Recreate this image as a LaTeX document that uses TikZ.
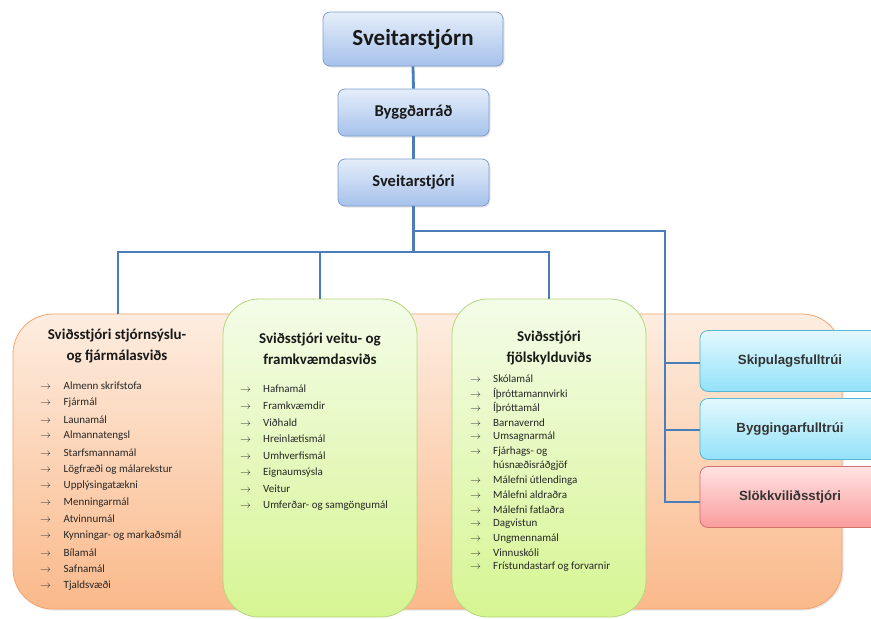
\documentclass[tikz,border=0pt]{standalone}
\usepackage{fontspec}
\setmainfont{Carlito}
\newfontfamily\arialf{Liberation Sans}
\usetikzlibrary{shadows}
\definecolor{lineblue}{HTML}{4A7EBB}
\definecolor{topA}{HTML}{E5EEFA}
\definecolor{topB}{HTML}{A6C1EB}
\definecolor{topborder}{HTML}{7F9DCC}
\definecolor{orA}{HTML}{FDEDE0}
\definecolor{orB}{HTML}{FAB98A}
\definecolor{orborder}{HTML}{F4A46A}
\definecolor{grA}{HTML}{F4FCE8}
\definecolor{grB}{HTML}{D6F592}
\definecolor{grborder}{HTML}{B4D77E}
\definecolor{cyA}{HTML}{E3F8FE}
\definecolor{cyB}{HTML}{93E2F9}
\definecolor{cyborder}{HTML}{56B6D3}
\definecolor{rdA}{HTML}{FFE3E3}
\definecolor{rdB}{HTML}{FA9C9C}
\definecolor{rdborder}{HTML}{D2706E}
\definecolor{titletxt}{HTML}{333333}
\newcommand{\arr}[1]{\makebox[#1][l]{\color{black!80}$\rightarrow$}}
\begin{document}
\begin{tikzpicture}[x=1pt,y=-1pt,
  topbox/.style={draw=topborder, line width=0.8pt, rounded corners=7pt,
    top color=topA, bottom color=topB, font=\bfseries, text=black!90,
    drop shadow={opacity=0.2, shadow xshift=1.5pt, shadow yshift=-1.5pt}},
  orbox/.style={draw=orborder, line width=0.8pt, rounded corners=40pt,
    top color=orA, bottom color=orB,
    drop shadow={opacity=0.2, shadow xshift=1.5pt, shadow yshift=-1.5pt}},
  grbox/.style={draw=grborder, line width=0.8pt, rounded corners=36pt,
    top color=grA, bottom color=grB},
  sidebox/.style={line width=0.8pt, rounded corners=8pt,
    minimum width=180, minimum height=61,
    font=\arialf\bfseries\fontsize{13.3}{15}\selectfont, text=titletxt},
  cybox/.style={sidebox, draw=cyborder, top color=cyA, bottom color=cyB},
  rdbox/.style={sidebox, draw=rdborder, top color=rdA, bottom color=rdB},
  ttl/.style={align=center, font=\bfseries\fontsize{15}{21}\selectfont, inner sep=0, text=black!90},
  item/.style={anchor=west, inner sep=0, font=\fontsize{11}{12}\selectfont, text=black!85},
  conn/.style={draw=lineblue, line width=2.8pt}
]
\clip (0,0) rectangle (871,619);
\fill[white] (0,0) rectangle (871,619);

% top hierarchy
\node[topbox, minimum width=180, minimum height=54, font=\bfseries\fontsize{23}{26}\selectfont] (sstjorn) at (413,39) {Sveitarstjórn};
\node[topbox, minimum width=151, minimum height=47, font=\bfseries\fontsize{16.5}{19}\selectfont] (byggrad) at (413.5,112.5) {Byggðarráð};
\node[topbox, minimum width=151, minimum height=47, font=\bfseries\fontsize{16.5}{19}\selectfont] (sstjori) at (413.5,182.5) {Sveitarstjóri};

% big boxes
\node[orbox, minimum width=829, minimum height=295] (fin) at (427.5,461.5) {};
\node[grbox, minimum width=194, minimum height=318] (veitu) at (320,458) {};
\node[grbox, minimum width=194, minimum height=318] (fjol) at (549,458) {};

% connectors
\draw[conn] (sstjorn.south) -- (byggrad.north);
\draw[conn] (byggrad.south) -- (sstjori.north);
\coordinate (hy) at (0,252);
\coordinate (hy2) at (0,231);
\coordinate (hub) at (sstjori.south |- hy);
\coordinate (hub2) at (sstjori.south |- hy2);
\coordinate (rv) at (665,231);
\coordinate (lv) at (118,252);
\draw[conn] (sstjori.south) -- (hub);
\draw[conn] (lv |- fin.north) -- (lv) -- (hub) -| (fjol.north);
\draw[conn] (veitu.north) -- (veitu.north |- hub);

% side boxes
\node[cybox] (skip) at (790,361) {Skipulagsfulltrúi};
\node[cybox] (bygg) at (790,429) {Byggingarfulltrúi};
\node[rdbox] (slokk) at (790,497) {Slökkviliðsstjóri};
\coordinate (s1) at (700,363);
\coordinate (s2) at (700,430);
\coordinate (s3) at (700,502);
\draw[conn] (hub2) -- (rv) |- (s3);
\draw[conn] (rv |- s1) -- (s1);
\draw[conn] (rv |- s2) -- (s2);

% titles
\node[ttl] (ftitle) at (117,346) {Sviðsstjóri stjórnsýslu-\\og fjármálasviðs};
\node[ttl] (vtitle) at (320,349) {Sviðsstjóri veitu- og\\framkvæmdasviðs};
\node[ttl] (jtitle) at (549,348) {Sviðsstjóri\\fjölskylduviðs};

% lists
\foreach \t [count=\i] in {Almenn skrifstofa, Fjármál, Launamál, Almannatengsl, Starfsmannamál, Lögfræði og málarekstur, Upplýsingatækni, Menningarmál, Atvinnumál, Kynningar- og markaðsmál, Bílamál, Safnamál, Tjaldsvæði}
  \node[item] (o\i) at (40,{386+16.65*(\i-1)}) {\arr{23.5pt}\t};

\foreach \t [count=\i] in {Hafnamál, Framkvæmdir, Viðhald, Hreinlætismál, Umhverfismál, Eignaumsýsla, Veitur, Umferðar- og samgöngumál}
  \node[item] (v\i) at (240,{389+16.65*(\i-1)}) {\arr{23pt}\t};

\foreach \a/\t [count=\i] in {1/Skólamál, 1/Íþróttamannvirki, 1/Íþróttamál, 1/Barnavernd, 1/Umsagnarmál, 1/Fjárhags- og, 0/húsnæðisráðgjöf, 1/Málefni útlendinga, 1/Málefni aldraðra, 1/Málefni fatlaðra, 1/Dagvistun, 1/Ungmennamál, 1/Vinnuskóli, 1/Frístundastarf og forvarnir}
  \node[item] (j\i) at (470,{379+14.47*(\i-1)}) {\ifnum\a=1 \arr{23pt}\else\hspace*{23pt}\fi\t};
\end{tikzpicture}
\end{document}
